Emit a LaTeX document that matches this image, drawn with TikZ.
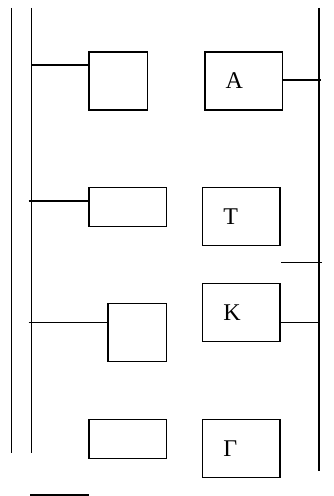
\documentclass[tikz,border=0pt]{standalone}
\usepackage{fontspec}
\setmainfont{Liberation Serif}
\begin{document}
\begin{tikzpicture}[x=0.5pt, y=-0.5pt, line width=0.7pt,
    ebox/.style={draw, minimum width=#1, minimum height=29pt, inner sep=0pt},
    eflat/.style={draw, minimum width=38.8pt, minimum height=19.5pt, inner sep=0pt},
    lbox/.style={draw, minimum height=29pt, inner xsep=10.4pt, text width=18pt, align=left, font=\fontsize{12}{14}\selectfont}]
    \useasboundingbox (0, 0) rectangle (333, 496);
    \draw (11.7, 8) -- (11.7, 453);
    \draw (31.3, 8) -- (31.3, 453);
    \draw (319, 8) -- (319, 471);
    \node[ebox=29.2pt] (b1) at (118.2, 81) {};
    \node[eflat] (b2) at (127.8, 207.2) {};
    \node[ebox=29.3pt] (b3) at (137.3, 332.2) {};
    \node[eflat] (b4) at (127.8, 438.8) {};
    \node[lbox] (A) at (243.7, 81) {A};
    \node[lbox] (T) at (241.3, 216.3) {T};
    \node[lbox] (K) at (241.3, 312.7) {K};
    \node[lbox] (G) at (241.3, 448.5) {Γ};
    \coordinate (j1) at (31.3, 65);
    \coordinate (j2) at (28.7, 201);
    \coordinate (j3) at (28.7, 322.3);
    \coordinate (jA) at (321, 80);
    \coordinate (jK) at (319, 322.3);
    \draw (j1) -- (j1 -| b1.west);
    \draw (j2) -- (j2 -| b2.west);
    \draw (j3) -- (j3 -| b3.west);
    \draw (A.east |- jA) -- (jA);
    \draw (K.east |- jK) -- (jK);
    \draw (281, 262.7) -- (321.7, 262.7);
    \draw (30.3, 495) -- (89.3, 495);
\end{tikzpicture}
\end{document}
